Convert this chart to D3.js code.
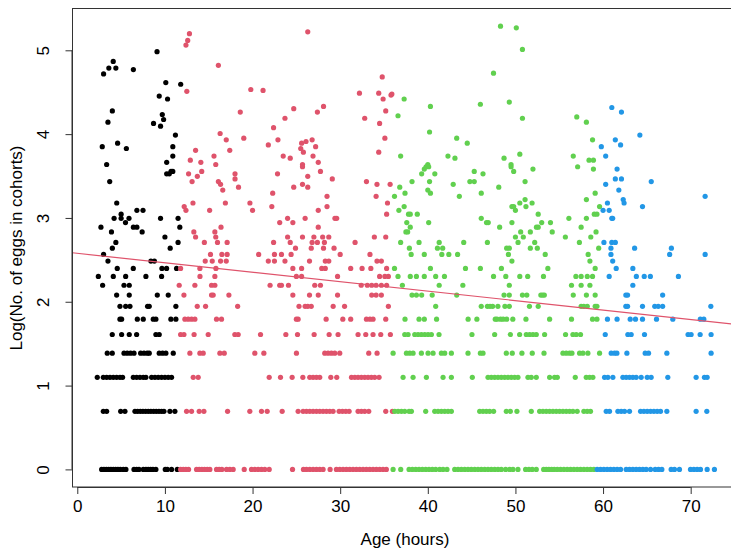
<!DOCTYPE html>
<meta charset="utf-8">
<script src="https://d3js.org/d3.v7.min.js"></script>
<div id="chart"></div>
<style>
  body { margin: 0; padding: 0; background: #fff; overflow: hidden; }
  svg text { font-family: "Liberation Sans", Arial, Helvetica, sans-serif; fill: #000; }
</style>
<script>
// egg counts per cohort
// rows: [count, [ages...]] ; upper: [age, count]
const blackRows = [
  [1, [2.78,3.04,3.31,3.58,3.84,4.11,4.38,4.64,4.91,5.25,5.55,6.47,6.77,7.04,7.53,7.83,8.10,8.37,8.63,8.97,10.04,10.27,10.76,11.41]],
  [2, [2.97,3.35,4.95,5.44,6.58,6.88,7.19,7.49,7.80,8.10,8.40,8.71,9.01,9.32,9.62,9.89,10.57,11.14]],
  [3, [2.28,2.97,3.35,3.73,4.11,4.49,4.87,5.17,6.39,6.77,7.15,7.53,7.83,8.48,8.86,9.24,9.62,10.0,10.38,10.76]],
  [4, [3.42,3.99,5.33,5.70,6.08,6.47,7.23,7.61,7.98,8.21,9.35,9.73,10.11,10.95]],
  [5, [3.99,5.06,5.93,6.77,8.97,9.35]],
  [6, [4.87,5.06,6.85,7.53,8.67,8.97,10.68,11.25]],
  [7, [4.87,5.52,6.01,8.02,8.21,11.25]],
  [8, [4.49,5.93,9.13,10.38]],
  [9, [2.89,5.33,5.93]],
  [10, [2.40,4.11,5.52,7.83,9.62]],
  [11, [4.56,6.39,9.66,10.19,11.33]],
  [12, [3.5,8.4,8.8]]
];
const blackUpper = [[9.1,146],[4.1,130],[3.6,120],[4.4,120],[3.0,112],[6.4,118],[10.1,101],[11.8,99],[9.35,86],[10.3,83],
  [4.0,72],[3.5,63],[9.7,69],[9.85,65],[8.7,62],[9.5,60],[11.2,54],[2.85,47],[4.6,49],[5.6,46],[10.9,47],[10.9,42],[10.2,39],
  [3.35,38],[10.2,34],[10.5,34],[10.7,35],[10.9,35],[3.7,31],[4.5,24],[5.0,21],[5.0,20],[4.2,20],[5.9,20],[6.8,22],[7.5,22],
  [5.5,19],[2.7,18],[3.9,17],[6.4,18],[6.8,18],[7.4,17],[9.5,20],[11.5,20],[11.7,18],[10.0,16],[11.5,15],[4.4,15],[4.0,14],
  [10.6,14],[3.0,13]];

const redRows = [
  [1, [11.79,12.09,12.39,12.70,13.61,13.91,14.22,14.52,14.83,15.13,15.89,16.19,16.50,17.03,17.41,17.79,19.05,19.88,20.26,20.64,21.02,21.40,21.90,24.56,25.81,26.15,26.53,26.91,27.29,27.67,28.05,28.85,29.57,29.95,30.33,30.71,31.09,31.47,31.85,32.23,32.61,32.99,33.37,33.75,34.13,34.51,34.89,35.27]],
  [2, [12.47,13.04,13.91,14.45,17.15,19.69,21.02,21.67,23.38,25.20,25.77,26.15,26.53,26.91,27.29,27.67,28.05,28.43,28.81,29.19,29.88,30.26,30.64,31.02,32.04,32.42,32.80,33.26,35.20,35.96]],
  [3, [13.23,13.80,21.90,23.19,24.52,25.74,26.53,26.91,27.29,27.67,28.93,29.61,31.29,31.67,32.04,32.42,32.80,33.18,33.56,33.94,34.44]],
  [4, [12.85,13.99,14.37,16.27,16.77,20.26,21.29,25.01,28.24,28.62,29.00,29.38,29.95,33.26,34.21]],
  [5, [11.79,12.17,13.33,14.94,17.98,18.36,20.91,23.80,25.13,27.03,28.74,29.76,32.04,32.92,33.75,34.63,35.73]],
  [6, [12.28,12.66,13.04,13.42,15.89,16.46,25.0,25.2,28.4,30.3,31.2,33.0,33.4,33.75,35.2]],
  [7, [13.69,14.64,18.3,25.3,26.0,26.3,26.7,29.2,30.5,35.5]],
  [8, [12.17,15.32,15.51,17.3,24.6,26.5,27.5,29.7,33.6,34.1,34.7]],
  [9, [11.63,13.42,15.32,15.70,22.0,23.1,23.3,24.1,27.1,27.75,32.4,33.1,33.6,34.1,34.7,35.3]],
  [10, [14.0,15.7,25.0,25.6,29.7,34.5,35.1,35.5]],
  [11, [11.79,13.99,15.82,24.6,25.6,27.9,28.3,31.2,32.5,33.5,35.3]],
  [12, [14.6,15.4,16.35,17.0,21.8,22.5,23.7,26.5,28.3,28.7,34.2,34.7]],
  [13, [15.2,16.5,17.1,20.7,22.5,23.3,24.4,30.0,33.4]]
];
const redUpper = [[12.7,34],[13.7,33],[14.2,35],[13.1,31],[16.1,31],[16.35,30],[16.6,28],[12.2,23],[12.4,22],[13.2,24],
  [15.1,22],[16.9,24],[16.4,18],[13.3,17],[15.7,17],[13.5,16],[15.8,16],[14.5,15],[16.0,15],[17.1,15],
  [12.8,181],[12.6,167],[12.4,158],[16.1,124],[12.5,91],[16.3,55],[17.0,51],[13.5,45],[12.9,40],[14.1,39],[15.6,42],
  [15.8,38],[17.4,45],[26.3,185],[19.8,93],[21.2,92],[18.6,71],[24.7,74],[23.7,66],[22.4,59],[28.1,76],[27.4,71],
  [19.0,52],[21.8,48],[22.9,51],[23.5,42],[24.3,41],[25.6,49],[26.1,50],[26.8,51],[25.5,46],[25.8,44],[27.2,47],
  [26.9,42],[27.5,39],[25.7,38],[32.2,89],[34.8,108],[34.4,89],[35.8,87],[34.9,83],[32.8,66],[35.2,72],[34.5,62],
  [35.1,52],[34.4,44],[35.9,88],[25.7,37],[27.75,35],[26.3,33],[25.7,30],[26.3,29],[24.7,29],[29.1,32],[22.85,34],
  [18.0,34],[18.0,32],[18.4,29],[22.3,27],[19.7,24],[20.0,22],[22.2,23],[28.5,26],[28.5,23],[27.5,22],[23.1,19],
  [24.0,20],[24.6,19],[26.0,20],[29.4,20],[29.6,20],[27.5,18],[24.0,16],[25.7,16],[27.0,16],[28.0,16],[28.7,16],
  [22.4,15],[24.3,15],[26.8,15],[27.4,15],[28.2,15],[31.7,15],[24.9,14],[26.7,14],[28.1,14],[29.3,14],[33.9,16],
  [35.2,16],[33.0,31],[34.2,30],[35.7,30],[34.1,26],[35.4,24],[35.3,21]];

const greenRows = [
  [1, [36.04,36.91,37.86,38.24,38.62,39.00,39.38,39.76,40.14,40.52,40.90,41.36,41.74,42.19,43.07,43.45,43.83,44.21,44.59,44.97,45.35,45.73,46.11,46.49,46.87,47.25,47.63,48.01,48.39,48.88,49.34,49.72,50.29,51.16,51.54,51.92,52.38,53.22,53.52,53.82,54.13,54.43,54.78,55.15,55.53,55.91,56.29,56.67,57.05,57.43,57.81,58.19,58.57,58.95]],
  [2, [36.23,36.61,36.99,37.37,37.86,38.13,39.76,40.79,41.17,41.55,41.93,42.31,42.69,45.92,46.30,46.68,47.06,47.51,48.96,49.42,50.17,51.81,52.76,53.14,53.52,53.90,54.28,54.66,55.04,55.42,55.80,56.18,56.56,57.05,57.81,58.19,58.57]],
  [3, [37.18,38.32,39.84,41.74,42.69,45.08,46.87,47.25,47.63,48.01,48.39,48.77,49.15,49.53,49.91,50.29,51.43,51.81,52.38,53.90,54.47,54.78,56.83,58.08,58.46,58.84]],
  [4, [36.04,37.56,37.94,38.32,39.27,40.03,40.60,41.55,41.93,42.69,44.59,46.0,46.3,48.96,49.64,50.74,51.92,53.26,55.42,55.80,56.18,56.45,57.32,57.70,58.27,59.60]],
  [5, [37.37,37.75,38.51,38.89,39.27,39.65,40.03,40.41,41.28,45.04,47.63,49.42,50.48,51.24,51.62,52.00,52.38,53.33,55.72,56.56,56.94,57.43]],
  [6, [37.4,39.0,39.6,41.0,44.6,45.6,47.7,47.9,48.3,48.6,49.0,49.7,51.2,53.9,56.4,58.8,59.3]],
  [7, [40.9,46.1,46.8,47.1,47.4,48.0,48.8,49.3,51.6,52.6,57.5,57.8,58.2,59.1,59.3]],
  [8, [38.2,38.7,39.3,40.5,43.3,48.7,49.3,50.8,51.3,52.9,53.1,53.3,56.6,58.1,59.1]],
  [9, [37.1,41.3,44.0,49.3,56.4,57.5,58.5]],
  [10, [36.6,38.0,38.7,39.6,40.9,41.9,47.5,48.9,50.5,51.4,53.2,56.9,57.5,58.2,58.8]],
  [11, [36.2,40.3,44.3,46.0,48.4,53.7,59.1]],
  [12, [49.6,58.5]],
  [13, [38.1,39.6,41.6,42.4,43.4,49.2,53.4,58.3]]
];
const greenUpper = [[48.3,198],[50.1,194],[50.8,150],[47.5,113],[37.3,83],[40.3,76],[36.6,68],[46.0,78],[49.3,80],[50.8,66],
  [40.2,56],[43.3,52],[44.5,49],[36.9,42],[42.3,42],[43.1,41],[48.7,41],[50.5,43],[40.0,38],[49.5,38],
  [57.0,67],[58.1,63],[58.8,51],[56.6,42],[58.4,40],[58.9,40],
  [39.6,36],[39.8,37],[40.1,37],[39.3,34],[40.8,34],[38.2,31],[40.2,31],[36.8,29],[40.0,28],[40.3,27],[37.4,27],[36.2,26],
  [42.9,30],[43.6,26],[45.3,35],[46.3,34],[44.8,31],[45.3,31],[46.1,27],[48.1,29],[49.5,37],[49.8,35],[52.0,36],[51.1,31],
  [37.3,23],[36.7,22],[37.8,21],[38.0,21],[38.8,21],[37.6,19],[38.0,18],[37.5,17],[37.7,17],[40.1,19],[49.6,23],[49.8,23],
  [50.0,22],[50.5,24],[51.1,25],[51.2,23],[51.9,24],[52.6,21],[53.0,19],[54.0,19],[46.1,20],[46.7,19],[46.9,19],[48.2,18],
  [49.6,19],[50.6,17],[51.7,17],[52.4,18],[52.6,18],[54.2,17],[50.0,16],[50.9,16],[36.9,15],[39.0,15],[41.3,15],[44.1,15],
  [46.8,15],[50.3,15],[52.2,15],[37.9,14],[41.1,14],[41.7,14],[49.0,14],[49.3,14],[51.7,14],[52.5,14],
  [57.1,37],[58.9,36],[59.1,27],[58.1,25],[59.6,23],[59.0,21],[59.3,21],[56.1,20],[58.1,20],[57.5,18],[59.2,17],[55.7,16],
  [58.6,16],[57.3,15],[59.5,14]];

const blueRows = [
  [1, [59.33,59.71,60.09,60.47,60.85,61.23,61.61,62.0,62.64,63.02,63.40,63.78,64.16,64.54,64.92,65.42,65.95,66.33,66.71,67.77,68.15,68.72,69.98,70.36,70.74,71.12,71.88,72.71]],
  [2, [60.36,60.74,61.69,62.07,62.45,63.02,64.28,64.66,65.04,65.42,65.80,66.18,66.56,67.28,70.62,71.84]],
  [3, [60.17,60.55,61.12,62.26,62.64,63.02,63.40,63.78,64.35,65.04,65.49,67.39,70.62,71.57,71.88]],
  [4, [60.93,61.31,61.58,62.72,64.81,65.19,67.28,72.33]],
  [5, [60.25,62.83,63.21,64.73,69.70,70.05,71.08,72.33]],
  [6, [60.5,61.6,63.1,63.7,64.5,66.1,67.96,71.1,71.5]],
  [7, [62.6,62.8,64.5,65.9,66.3,66.8,72.3]],
  [8, [62.6,62.8,66.8]],
  [9, [63.4]],
  [10, [60.7,63.8,64.7,65.4,68.6]],
  [11, [61.5,63.4]],
  [12, [61.1]],
  [13, [60.9,67.6,71.65]]
];
const blueUpper = [[61.0,75],[62.1,71],[64.2,54],[61.4,51],[62.0,48],[59.8,47],[60.3,42],[61.6,36],[61.4,32],[62.1,32],
  [60.3,30],[61.8,28],[65.5,31],[71.65,26],[62.3,25],[62.4,24],[60.5,24],[60.0,22],[60.7,22],[64.5,23],[61.0,20],[61.1,20],
  [60.1,15],[61.0,15],[61.4,15],[60.9,14],[63.6,14],[67.8,14]];

// fitted line: log(eggs) = intercept + slope * age
const intercept = 2.578;
const slope = -0.01128;

const xTicks = [0, 10, 20, 30, 40, 50, 60, 70];
const yTicks = [0, 1, 2, 3, 4, 5];

const groups = [
  { color: "#000000", rows: blackRows, upper: blackUpper },
  { color: "#DF536B", rows: redRows, upper: redUpper },
  { color: "#61D04F", rows: greenRows, upper: greenUpper },
  { color: "#2297E6", rows: blueRows, upper: blueUpper }
];

const W = 731, H = 551;
const FS = 17;
const svg = d3.select("#chart").append("svg")
  .attr("width", W).attr("height", H);

const x = d3.scaleLinear().domain([-0.57, 75.4]).range([72.3, 738]);
const y = d3.scaleLinear().domain([-0.21, 5.5]).range([487, 8.4]);

const points = [];
for (const g of groups) {
  for (const [n, ages] of g.rows) for (const a of ages) points.push({ age: a, n, color: g.color });
  for (const [a, n] of g.upper) points.push({ age: a, n, color: g.color });
}

svg.append("defs").append("clipPath").attr("id", "plotclip")
  .append("rect").attr("x", 72.3).attr("y", 8.4).attr("width", 738 - 72.3).attr("height", 487 - 8.4);

svg.append("g")
  .selectAll("circle")
  .data(points)
  .join("circle")
  .attr("cx", d => x(d.age))
  .attr("cy", d => y(Math.log(d.n)))
  .attr("r", 2.6)
  .attr("fill", d => d.color);

svg.append("line")
  .attr("clip-path", "url(#plotclip)")
  .attr("x1", x(-0.57)).attr("y1", y(intercept + slope * -0.57))
  .attr("x2", x(75.4)).attr("y2", y(intercept + slope * 75.4))
  .attr("stroke", "#DF536B").attr("stroke-width", 1.2);

// box
svg.append("rect")
  .attr("x", 72.5).attr("y", 8.5).attr("width", 738 - 72.5).attr("height", 487 - 8.5)
  .attr("fill", "none").attr("stroke", "#333").attr("stroke-width", 1);

// x axis
const xAxis = svg.append("g").attr("transform", "translate(0,487)")
  .call(d3.axisBottom(x).tickValues(xTicks).tickSize(7).tickPadding(6).tickFormat(d3.format("d")));
xAxis.select(".domain").attr("d", `M${x(0)},0.5H${x(70)}`).attr("stroke", "#333");
xAxis.selectAll(".tick line").attr("stroke", "#333");
xAxis.selectAll("text").attr("font-size", FS).attr("fill", "#000");

// y axis
const yAxis = svg.append("g").attr("transform", "translate(72.5,0)")
  .call(d3.axisLeft(y).tickValues(yTicks).tickSize(7).tickFormat(d3.format("d")));
yAxis.select(".domain").attr("d", `M-0.5,${y(0)}V${y(5)}`).attr("stroke", "#333");
yAxis.selectAll(".tick line").attr("stroke", "#333");
yAxis.selectAll("text")
  .attr("font-size", FS).attr("fill", "#000")
  .attr("x", null).attr("dy", null)
  .attr("text-anchor", "middle")
  .attr("dominant-baseline", "central")
  .attr("transform", "translate(-29.5,0) rotate(-90)");

svg.append("text")
  .attr("x", 405).attr("y", 545)
  .attr("text-anchor", "middle").attr("font-size", FS)
  .text("Age (hours)");

svg.append("text")
  .attr("transform", "translate(22,248) rotate(-90)")
  .attr("text-anchor", "middle").attr("font-size", FS)
  .text("Log(No. of eggs in cohorts)");
</script>
